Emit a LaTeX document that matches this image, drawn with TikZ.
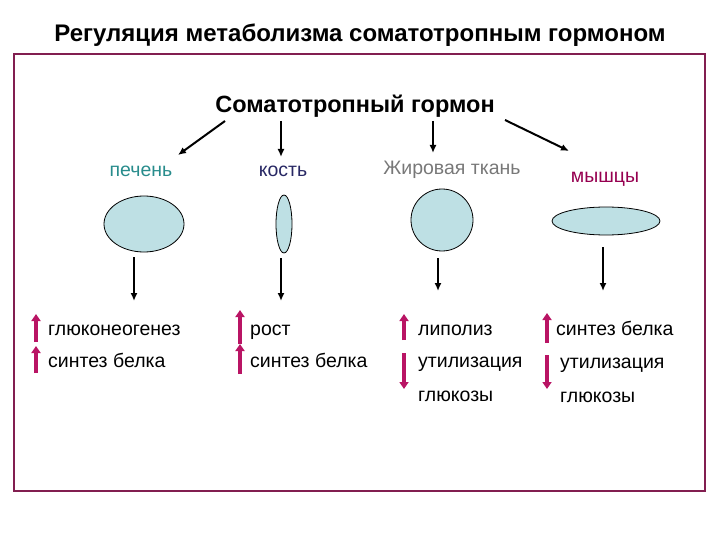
\documentclass[tikz,border=0pt]{standalone}
\usepackage{fontspec}
\setmainfont{Liberation Sans}
\usetikzlibrary{arrows.meta,shapes.geometric}
\definecolor{frame}{RGB}{130,30,80}
\definecolor{organ}{RGB}{190,224,228}
\definecolor{teal}{RGB}{40,140,140}
\definecolor{navy}{RGB}{40,40,100}
\definecolor{fatgray}{RGB}{120,120,120}
\definecolor{muscle}{RGB}{150,0,80}
\definecolor{mag}{RGB}{185,20,100}
\tikzset{
  organbox/.style={ellipse,draw=black,fill=organ,line width=0.8pt,inner sep=0pt},
  blackarrow/.style={line width=2pt,-{Latex[length=8pt,width=7pt]}},
  magarrow/.style={mag,line width=3.5pt,-{Triangle[length=7pt,width=9pt]}},
  effect/.style={anchor=base west,font=\fontsize{19.5}{22}\selectfont,inner sep=0pt},
  tissue/.style={anchor=base,font=\fontsize{19.5}{22}\selectfont,inner sep=0pt}
}
\begin{document}
\begin{tikzpicture}[x=1pt,y=-1pt]
\useasboundingbox (0,0) rectangle (720,540);
\node[anchor=base,font=\bfseries\fontsize{24}{28}\selectfont,inner sep=0pt] (title) at (360,42) {Регуляция метаболизма соматотропным гормоном};
\draw[frame,line width=1.3pt] (14,54) rectangle (705,491);
\node[anchor=base,font=\bfseries\fontsize{23.5}{27}\selectfont,inner sep=0pt] (gh) at (355,113) {Соматотропный гормон};
% tissue labels
\node[tissue,text=teal] (liver) at (141,177) {печень};
\node[tissue,text=navy] (bone) at (283,177) {кость};
\node[tissue,text=fatgray] (fat) at (452,175) {Жировая ткань};
\node[tissue,text=muscle] (musc) at (605,183) {мышцы};
% arrows from hormone
\coordinate (a1s) at (225,121); \coordinate (a1e) at (178,155);
\coordinate (a2s) at (281,121); \coordinate (a2e) at (281,157);
\coordinate (a3s) at (433,121); \coordinate (a3e) at (433,153);
\coordinate (a4s) at (505,120); \coordinate (a4e) at (569,151);
\draw[blackarrow] (a1s) -- (a1e);
\draw[blackarrow] (a2s) -- (a2e);
\draw[blackarrow] (a3s) -- (a3e);
\draw[blackarrow] (a4s) -- (a4e);
% organs
\node[organbox,minimum width=80pt,minimum height=56pt] (o1) at (144,224) {};
\node[organbox,minimum width=16pt,minimum height=58pt] (o2) at (284,224) {};
\node[organbox,minimum width=62pt,minimum height=62pt] (o3) at (442,220) {};
\node[organbox,minimum width=108pt,minimum height=28pt] (o4) at (606,221) {};
% down arrows
\coordinate (d1s) at (134,257); \coordinate (d1e) at (134,301);
\coordinate (d2s) at (281,258); \coordinate (d2e) at (281,301);
\coordinate (d3s) at (438,258); \coordinate (d3e) at (438,291);
\coordinate (d4s) at (603,247); \coordinate (d4e) at (603,291);
\draw[blackarrow] (d1s) -- (d1e);
\draw[blackarrow] (d2s) -- (d2e);
\draw[blackarrow] (d3s) -- (d3e);
\draw[blackarrow] (d4s) -- (d4e);
% effects liver
\node[effect] (e11) at (48,335) {глюконеогенез};
\node[effect] (e12) at (48,367) {синтез белка};
\coordinate (m11s) at (36,342); \coordinate (m11e) at (36,314);
\coordinate (m12s) at (36,373); \coordinate (m12e) at (36,346);
\draw[magarrow] (m11s) -- (m11e);
\draw[magarrow] (m12s) -- (m12e);
% bone
\node[effect] (e21) at (250,335) {рост};
\node[effect] (e22) at (250,367) {синтез белка};
\coordinate (m21s) at (240,344); \coordinate (m21e) at (240,310);
\coordinate (m22s) at (240,374); \coordinate (m22e) at (240,344);
\draw[magarrow] (m21s) -- (m21e);
\draw[magarrow] (m22s) -- (m22e);
% fat
\node[effect] (e31) at (418,335) {липолиз};
\node[effect] (e32) at (418,367) {утилизация};
\node[effect] (e33) at (418,401) {глюкозы};
\coordinate (m31s) at (404,340); \coordinate (m31e) at (404,314);
\coordinate (m32s) at (404,353); \coordinate (m32e) at (404,389);
\draw[magarrow] (m31s) -- (m31e);
\draw[magarrow] (m32s) -- (m32e);
% muscle
\node[effect] (e41) at (556,335) {синтез белка};
\node[effect] (e42) at (560,368) {утилизация};
\node[effect] (e43) at (560,402) {глюкозы};
\coordinate (m41s) at (547,343); \coordinate (m41e) at (547,313);
\coordinate (m42s) at (547,355); \coordinate (m42e) at (547,389);
\draw[magarrow] (m41s) -- (m41e);
\draw[magarrow] (m42s) -- (m42e);
\end{tikzpicture}
\end{document}
